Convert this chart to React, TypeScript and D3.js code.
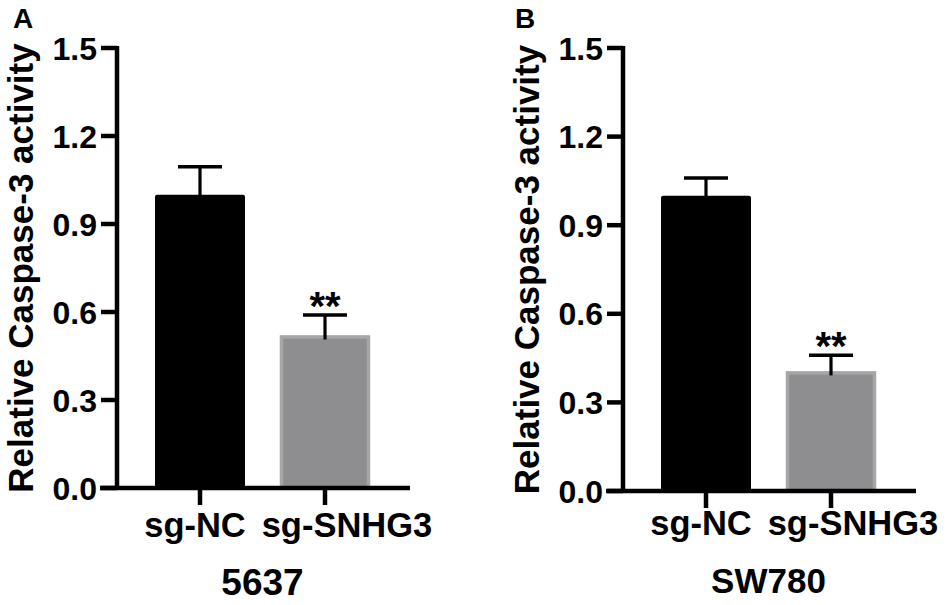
import React from "react";
import * as d3 from "d3";

const categories = ["sg-NC", "sg-SNHG3"];
const panelLetters = ["A", "B"];
const cellLines = ["5637", "SW780"];
const valuesA = [1.0, 0.52];
const errorsA = [0.095, 0.07];
const valuesB = [1.0, 0.405];
const errorsB = [0.06, 0.055];
const significance = ["", "**"];
const yTicks = [0, 0.3, 0.6, 0.9, 1.2, 1.5];
const yTitle = "Relative Caspase-3 activity";

const barColors = ["#000000", "#8e8e90"];
const barStroke = ["#000000", "#a6a6a6"];

const FONT = "'Liberation Sans', Arial, Helvetica, sans-serif";

const layouts = [
  { x: 117, top: 48, h: 440, xLabelY: 537, cellY: 595, cellSize: 37, letterX: 13 },
  { x: 623, top: 48, h: 443, xLabelY: 535, cellY: 593, cellSize: 35, letterX: 515 },
];

const labelShift = [-5, 22];

function Panel({ idx, values, errors }: { idx: number; values: number[]; errors: number[] }) {
  const L = layouts[idx];
  const y = d3.scaleLinear().domain([0, 1.5]).range([L.h, 0]);
  const x = d3.scalePoint<string>().domain(categories).range([0, 291]).padding(0.664);
  const barW = 90;
  const capW = 44;
  const mid = ((x(categories[0]) as number) + (x(categories[1]) as number)) / 2;
  return (
    <g>
      <text x={L.letterX} y={28} fontFamily={FONT} fontWeight="bold" fontSize={28} fill="#000">
        {panelLetters[idx]}
      </text>
      <g transform={`translate(${L.x},${L.top})`}>
        {categories.map((c, i) => {
          const cx = x(c) as number;
          const top = y(values[i]);
          const et = y(values[i] + errors[i]);
          return (
            <g key={c}>
              {i === 0 ? (
                <rect x={cx - barW / 2} y={top} width={barW} height={L.h - top} fill={barColors[i]} rx={2} />
              ) : (
                <rect
                  x={cx - barW / 2 + 1.5}
                  y={top + 1.5}
                  width={barW - 3}
                  height={L.h - top - 1.5}
                  fill={barColors[i]}
                  stroke={barStroke[i]}
                  strokeWidth={3.5}
                />
              )}
              <line x1={cx} x2={cx} y1={top + 4} y2={et} stroke="#000" strokeWidth={3.2} />
              <line x1={cx - capW / 2} x2={cx + capW / 2} y1={et} y2={et} stroke="#000" strokeWidth={3.5} />
              {significance[i] && (
                <text x={cx} y={et + 5} textAnchor="middle" fontFamily={FONT} fontWeight="bold" fontSize={40} fill="#000">
                  {significance[i]}
                </text>
              )}
            </g>
          );
        })}
        <line x1={0} x2={0} y1={-2} y2={L.h + 2} stroke="#000" strokeWidth={4.5} />
        {yTicks.map((t) => (
          <g key={t}>
            <line x1={-16} x2={0} y1={y(t)} y2={y(t)} stroke="#000" strokeWidth={4.5} />
            <text
              x={-20}
              y={y(t)}
              dy="0.36em"
              textAnchor="end"
              fontFamily={FONT}
              fontWeight="bold"
              fontSize={32}
              fill="#000"
            >
              {t.toFixed(1)}
            </text>
          </g>
        ))}
        <line x1={-17} x2={293} y1={L.h} y2={L.h} stroke="#000" strokeWidth={4.5} />
        {categories.map((c, i) => (
          <g key={c}>
            <line x1={x(c) as number} x2={x(c) as number} y1={L.h} y2={L.h + 17} stroke="#000" strokeWidth={4.5} />
            <text
              x={(x(c) as number) + labelShift[i]}
              y={L.xLabelY - L.top}
              textAnchor="middle"
              fontFamily={FONT}
              fontWeight="bold"
              fontSize={34.5}
              fill="#000"
            >
              {c}
            </text>
          </g>
        ))}
        <text
          x={mid}
          y={L.cellY - L.top}
          textAnchor="middle"
          fontFamily={FONT}
          fontWeight="bold"
          fontSize={L.cellSize}
          fill="#000"
        >
          {cellLines[idx]}
        </text>
        <text
          transform={`translate(${-84},${L.h / 2}) rotate(-90)`}
          textAnchor="middle"
          fontFamily={FONT}
          fontWeight="bold"
          fontSize={35}
          fill="#000"
        >
          {yTitle}
        </text>
      </g>
    </g>
  );
}

export default function App() {
  return (
    <svg
      width={950}
      height={605}
      viewBox="0 0 950 605"
      style={{ position: "absolute", left: 0, top: 0, background: "#fff" }}
    >
      <rect width={950} height={605} fill="#fff" />
      <Panel idx={0} values={valuesA} errors={errorsA} />
      <Panel idx={1} values={valuesB} errors={errorsB} />
    </svg>
  );
}
